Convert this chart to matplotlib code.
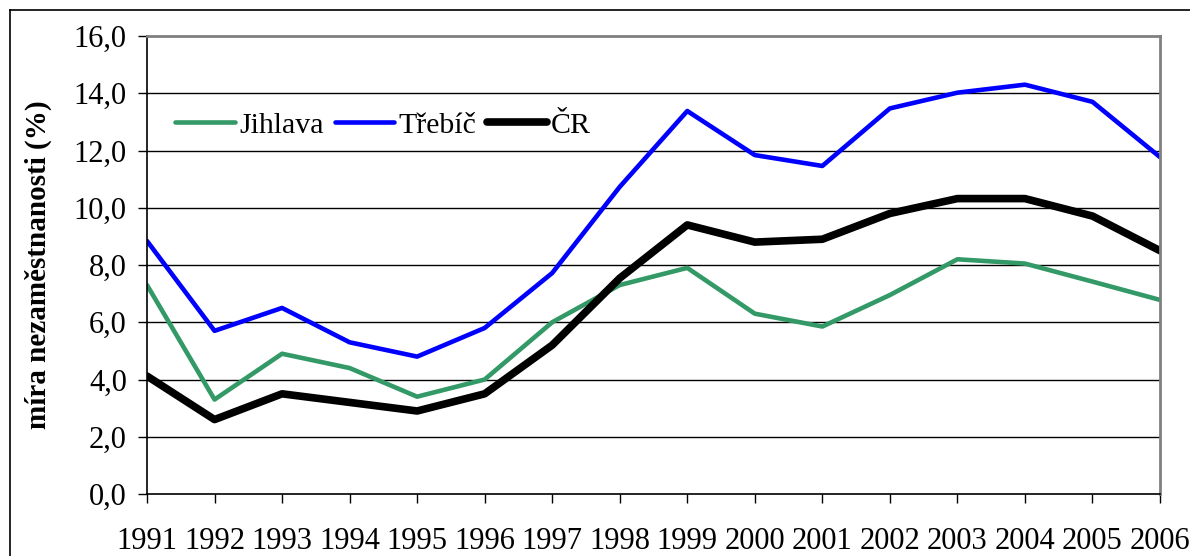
import numpy as np
import matplotlib
matplotlib.use("Agg")
import matplotlib.pyplot as plt
from matplotlib.lines import Line2D

plt.rcParams['font.family'] = ['Liberation Serif', 'DejaVu Serif']

# data
years = list(range(1991, 2007))
jihlava = [7.3, 3.3, 4.9, 4.4, 3.4, 4.0, 6.0, 7.3, 7.9, 6.3, 5.85, 6.95, 8.2, 8.05, 7.42, 6.78]
trebic = [8.84, 5.7, 6.5, 5.3, 4.8, 5.8, 7.72, 10.73, 13.38, 11.84, 11.46, 13.47, 14.02, 14.3, 13.7, 11.77]
cr = [4.12, 2.6, 3.5, 3.2, 2.9, 3.5, 5.2, 7.54, 9.4, 8.8, 8.9, 9.8, 10.32, 10.32, 9.71, 8.5]
series_names = ["Jihlava", "Třebíč", "ČR"]
yticks = np.arange(0, 16.1, 2)

fig = plt.figure(figsize=(11.9, 5.56), dpi=100)
ax = fig.add_axes([147 / 1190, 62 / 556, 1013 / 1190, 458 / 556])

ax.plot(years, jihlava, color="#339966", lw=3.3, label=series_names[0], solid_capstyle="round")
ax.plot(years, trebic, color="#0000FF", lw=3.3, label=series_names[1], solid_capstyle="round")
ax.plot(years, cr, color="black", lw=5.5, label=series_names[2], solid_capstyle="round")

ax.set_xlim(1991, 2006)
ax.set_ylim(0, 16)
ax.set_xticks(years)
ax.set_xticklabels([str(y) for y in years])
ax.set_yticks(yticks)
ax.set_yticklabels([f"{v:.1f}".replace(".", ",") for v in yticks])

for v in yticks[1:-1]:
    ax.axhline(v, color="black", lw=1, zorder=0.5)

ax.spines['left'].set_color("black")
ax.spines['bottom'].set_color("black")
ax.spines['left'].set_linewidth(1.2)
ax.spines['bottom'].set_linewidth(1.2)
ax.spines['top'].set_color("#808080")
ax.spines['right'].set_color("#808080")
ax.spines['top'].set_linewidth(2)
ax.spines['right'].set_linewidth(2)

ax.tick_params(axis='both', direction='out', length=6.5, width=1, labelsize=22, color="black")
ax.tick_params(axis='x', pad=17)
ax.tick_params(axis='y', pad=8)

ax.set_ylabel("míra nezaměstnanosti (%)", fontsize=21, fontweight="bold", labelpad=16)

ax.legend(loc="center left", bbox_to_anchor=(0.028, 0.805), ncol=3, frameon=False,
          fontsize=21.5, handlelength=2.0, handletextpad=0.15, columnspacing=0.35,
          borderaxespad=0, borderpad=0)

# outer frame (top and left edges visible)
fig.add_artist(Line2D([10 / 1190, 1.0], [1 - 10 / 556, 1 - 10 / 556], color="black", lw=1.2,
                      transform=fig.transFigure))
fig.add_artist(Line2D([10 / 1190, 10 / 1190], [0.0, 1 - 10 / 556], color="black", lw=1.2,
                      transform=fig.transFigure))

fig.savefig("out.png", dpi=100)
plt.close(fig)
